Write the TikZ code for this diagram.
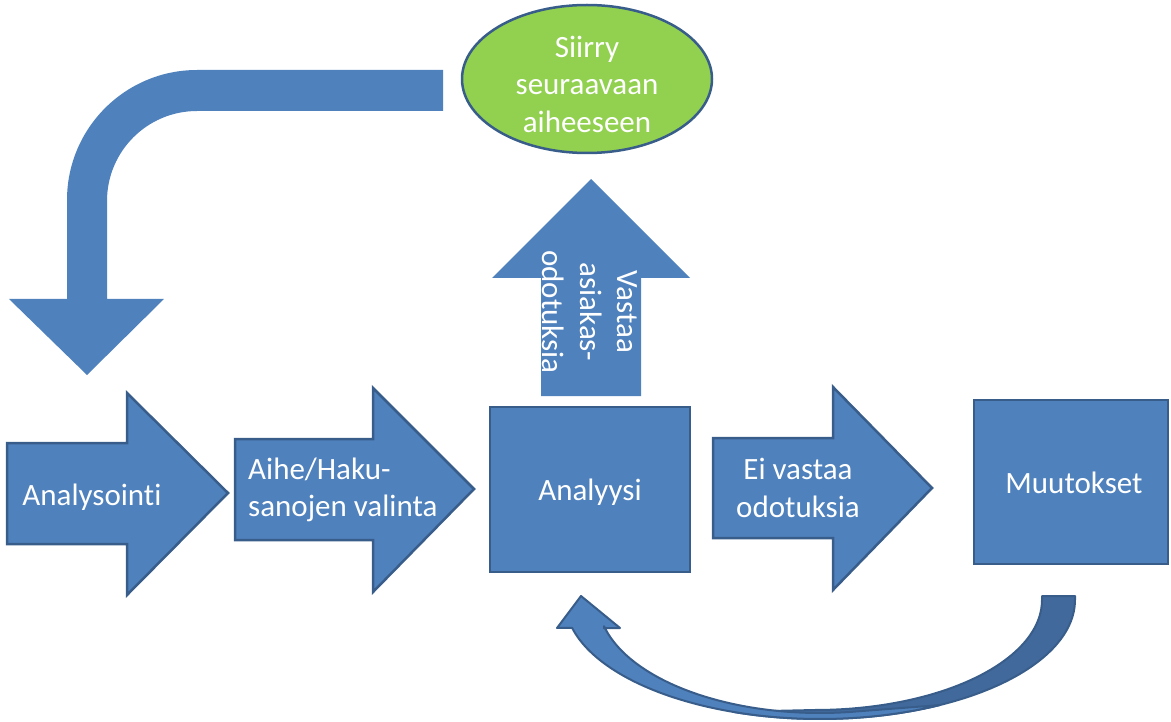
\documentclass[tikz,border=0pt]{standalone}
\usepackage{fontspec}
\setmainfont{Carlito}[Ligatures=NoCommon]
\definecolor{boxblue}{HTML}{4F81BD}
\definecolor{edgeblue}{HTML}{385D8A}
\definecolor{backblue}{HTML}{41699C}
\definecolor{leafgreen}{HTML}{92D050}
\tikzset{
  shapefill/.style={fill=boxblue},
  shapeedge/.style={fill=boxblue, draw=edgeblue, line width=2.5pt, line join=miter},
  label/.style={text=white, inner sep=0pt, font=\fontsize{31}{37.5}\selectfont},
}
\begin{document}
\begin{tikzpicture}[x=1pt, y=-1pt]
\useasboundingbox (0,0) rectangle (1171,722);

% bent return arrow, top left
\fill[shapefill] (443,70) -- (197,70)
  arc[start angle=270, end angle=180, radius=130]
  -- (67,299) -- (9,299) -- (87,375) -- (164,299) -- (107,299) -- (107,201)
  arc[start angle=180, end angle=270, radius=90]
  -- (443,111) -- cycle;

% upward arrow above the analysis box
\fill[shapefill] (541,396) -- (541,278) -- (492,278) -- (591,179) -- (690,278)
  -- (641,278) -- (641,396) -- cycle;

% block arrows of the main row
\filldraw[shapeedge] (7,443) -- (127,443) -- (127,393) -- (228,493) -- (127,595)
  -- (127,544) -- (7,544) -- cycle;
\filldraw[shapeedge] (235,439) -- (373,439) -- (373,388) -- (474,489) -- (373,592)
  -- (373,540) -- (235,540) -- cycle;
\filldraw[shapeedge] (713,438) -- (833,438) -- (833,387) -- (932,488) -- (833,590)
  -- (833,538) -- (713,538) -- cycle;

% boxes
\filldraw[shapeedge] (490,407) rectangle (690,572);
\filldraw[shapeedge] (974,400) rectangle (1168,564);

% ellipse
\filldraw[fill=leafgreen, draw=edgeblue, line width=2.5pt] (587,79) ellipse[x radius=125, y radius=74];

% curved arrow back to the analysis box: rear band, tapering under the front band
\filldraw[fill=backblue, draw=edgeblue, line width=2pt, line join=round]
  (1075,596) -- (1042,596)
  -- plot[domain=0:90, samples=40, smooth] ({815+227*cos(\x)},{600+110*sin(\x)})
  -- plot[domain=110:0, samples=40, smooth] ({820+255*cos(\x)},{600+119*sin(\x)})
  -- cycle;
% front band with the arrow head, tapering out at the bottom
\filldraw[fill=boxblue, draw=edgeblue, line width=2pt, line join=round]
  (557,628) -- (581,596) -- (620,628) -- (604,628)
  -- plot[domain=166.6:80, samples=40, smooth] ({820+222*cos(\x)},{600+113*sin(\x)})
  -- plot[domain=62:166.5, samples=40, smooth] ({820+255*cos(\x)},{600+119*sin(\x)})
  -- cycle;

% texts
\node[label, anchor=base] (analysointi) at (92,505) {Analysointi};
\node[label, anchor=west, align=left] (valinta) at (248,490) {Aihe/Haku-\\sanojen valinta};
\node[label, anchor=base] (analyysi) at (590,500) {Analyysi};
\node[label, align=center] (eivastaa) at (798,488) {Ei vastaa\\odotuksia};
\node[label, anchor=base] (muutokset) at (1074,493) {Muutokset};
\node[label, align=center] (siirry) at (587,84) {Siirry\\seuraavaan\\aiheeseen};
\node[label, align=center, rotate=-90] (vastaa) at (590,312) {Vastaa\\asiakas-\\odotuksia};
\end{tikzpicture}
\end{document}
